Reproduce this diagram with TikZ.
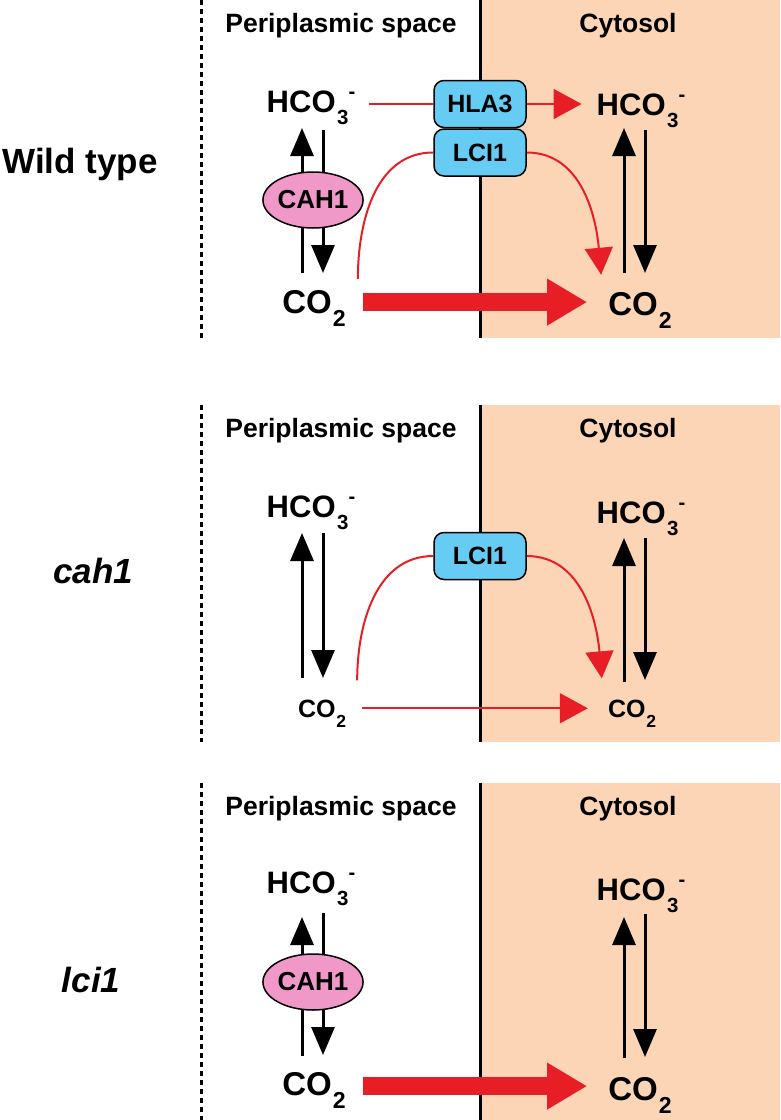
\documentclass[tikz,border=0pt]{standalone}
\usepackage{fontspec}
\setmainfont{Liberation Sans}
\usepackage{graphicx}
\usepackage{tikz}
\usetikzlibrary{positioning}
\usetikzlibrary{arrows.meta, shapes.geometric}

\definecolor{cytofill}{RGB}{252,213,182}
\definecolor{boxblue}{RGB}{102,204,243}
\definecolor{cahpink}{RGB}{240,152,200}
\definecolor{arrowred}{RGB}{232,30,38}

\newcommand{\chemsub}[2]{\raisebox{-0.4em}{\scalebox{#1}{#2}}}
\newcommand{\chemsup}[1]{\raisebox{0.42em}{\scalebox{0.65}{#1}}}
\newcommand{\hco}{HCO\kern0.05em\chemsub{0.66}{3}\chemsup{-}}
\newcommand{\co}{CO\kern0.03em\chemsub{0.7}{2}}

\begin{document}
\begin{tikzpicture}[x=1pt,y=-1pt]

 \tikzset{
 	region/.style={font=\bfseries\fontsize{26.5}{26.5}\selectfont, inner sep=0pt, anchor=base},
 	strain/.style={font=\bfseries\fontsize{35}{35}\selectfont, inner sep=0pt, anchor=base},
 	species/.style={font=\bfseries\fontsize{31}{31}\selectfont, inner sep=0pt, anchor=base},
 	big co/.style={font=\bfseries\fontsize{33}{33}\selectfont},
 	small co/.style={font=\bfseries\fontsize{25}{25}\selectfont},
 	transporter/.style={draw, line width=1.5pt, fill=boxblue, rounded corners=10pt,
 		minimum width=92pt, minimum height=47pt, inner sep=0pt,
 		font=\bfseries\fontsize{25}{25}\selectfont},
 	enzyme/.style={ellipse, draw, line width=1.5pt, fill=cahpink,
 		minimum width=94pt, minimum height=56pt, inner sep=0pt,
 		font=\bfseries\fontsize{26}{26}\selectfont},
 	eq/.style={line width=3pt, -{Triangle[length=28pt,width=23pt]}},
 	flux/.style={draw=arrowred, line width=2pt, -{Triangle[length=28pt,width=30pt]}},
 	bendflux/.style={draw=arrowred, line width=2pt, -{Triangle[length=27pt,width=28pt]}},
 	fat/.style={draw=arrowred, line width=18pt, -{Triangle[length=40pt,width=44pt]}},
 	plain/.style={draw=arrowred, line width=2pt},
 	membrane/.style={line width=3pt},
 	periphery/.style={line width=3pt, dash pattern=on 5pt off 4pt}
 }

 \useasboundingbox (0,0) rectangle (780,1120);

 % compartments
 \foreach \ya/\yb/\n in {0/338/1, 405/742/2, 783/1120/3} {
 	\fill[cytofill] (480,\ya) rectangle (780,\yb);
 	\draw[membrane] (480,\ya) -- (480,\yb);
 	\draw[periphery] (201,\ya) -- (201,\yb);
 	\node[region] (peri\n) at (341,\ya+32) {Periplasmic space};
 	\node[region] (cyto\n) at (628,\ya+32) {Cytosol};
 }

 \node[strain] (wt) at (80,173) {Wild type};
 \node[strain] (cah) at (93,583) {\itshape cah1};
 \node[strain] (lci) at (91,992) {\itshape lci1};

 % wild type
 \node[species] (hcoL1) at (311,112) {\hco};
 \node[species] (hcoR1) at (641,115) {\hco};
 \node[species, big co] (coL1) at (314,313) {\co};
 \node[species, big co] (coR1) at (640,315) {\co};

 \draw[eq] ([xshift=-12pt,yshift=40pt]coL1.base) -- ([xshift=-9pt,yshift=-16pt]hcoL1.base);
 \draw[eq] ([xshift=12pt,yshift=-18pt]hcoL1.base) -- ([xshift=9pt,yshift=40pt]coL1.base);
 \draw[eq] ([xshift=-16pt,yshift=42pt]coR1.base) -- ([xshift=-17pt,yshift=-13pt]hcoR1.base);
 \draw[eq] ([xshift=4pt,yshift=-15pt]hcoR1.base) -- ([xshift=5pt,yshift=42pt]coR1.base);
 \node[enzyme] (cahW) at (313,200) {CAH1};

 \node[transporter] (hla) at (480,104) {HLA3};
 \node[transporter, below=0pt of hla] (lciW) {LCI1};
 \draw[plain, shorten <=14pt] (hla.west -| hcoL1.east) -- (hla.west);
 \draw[flux, shorten >=15pt] (hla.east) -- (hla.east -| hcoR1.west);
 \draw[plain] ([xshift=12pt,yshift=11pt]coL1.north east) to[out=90,in=180] (lciW.west);
 \draw[bendflux] (lciW.east) to[out=0,in=95] ([xshift=-7pt,yshift=17pt]coR1.north west);
 \coordinate (fatW) at ([xshift=17pt,yshift=6pt]coL1.east);
 \draw[fat, shorten >=21pt] (fatW) -- (fatW -| coR1.west);

 % cah1
 \node[species] (hcoL2) at (311,517) {\hco};
 \node[species] (hcoR2) at (641,523) {\hco};
 \node[species, small co] (coL2) at (322,717) {\co};
 \node[species, small co] (coR2) at (632,717) {\co};

 \draw[eq] ([xshift=-20pt,yshift=39pt]coL2.base) -- ([xshift=-9pt,yshift=-16pt]hcoL2.base);
 \draw[eq] ([xshift=12pt,yshift=-16pt]hcoL2.base) -- ([xshift=1pt,yshift=39pt]coL2.base);
 \draw[eq] ([xshift=-8pt,yshift=35pt]coR2.base) -- ([xshift=-17pt,yshift=-15pt]hcoR2.base);
 \draw[eq] ([xshift=4pt,yshift=-15pt]hcoR2.base) -- ([xshift=13pt,yshift=37pt]coR2.base);

 \node[transporter] (lciC) at (480,556) {LCI1};
 \draw[plain] ([xshift=11pt,yshift=19pt]coL2.north east) to[out=90,in=180] (lciC.west);
 \draw[bendflux] (lciC.east) to[out=0,in=95] ([xshift=-6pt,yshift=21pt]coR2.north west);
 \coordinate (thinC) at ([xshift=16pt,yshift=5pt]coL2.east);
 \draw[flux, shorten >=20pt] (thinC) -- (thinC -| coR2.west);

 % lci1
 \node[species] (hcoL3) at (311,893) {\hco};
 \node[species] (hcoR3) at (641,900) {\hco};
 \node[species, big co] (coL3) at (314,1095) {\co};
 \node[species, big co] (coR3) at (640,1100) {\co};

 \draw[eq] ([xshift=-12pt,yshift=39pt]coL3.base) -- ([xshift=-9pt,yshift=-24pt]hcoL3.base);
 \draw[eq] ([xshift=12pt,yshift=-20pt]hcoL3.base) -- ([xshift=9pt,yshift=40pt]coL3.base);
 \draw[eq] ([xshift=-16pt,yshift=42pt]coR3.base) -- ([xshift=-17pt,yshift=-17pt]hcoR3.base);
 \draw[eq] ([xshift=4pt,yshift=-14pt]hcoR3.base) -- ([xshift=5pt,yshift=43pt]coR3.base);
 \node[enzyme] (cahL) at (313,982) {CAH1};

 \coordinate (fatL) at ([xshift=17pt,yshift=4pt]coL3.east);
 \draw[fat, shorten >=21pt] (fatL) -- (fatL -| coR3.west);

\end{tikzpicture}
\end{document}
